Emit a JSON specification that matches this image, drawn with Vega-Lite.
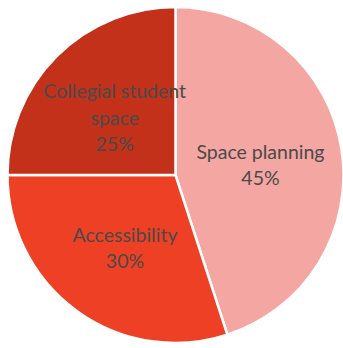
{
  "$schema": "https://vega.github.io/schema/vega-lite/v6.json",
  "width": 335,
  "height": 336,
  "padding": {"left": 2, "top": 2, "right": 0, "bottom": 0},
  "background": "white",
  "data": {
    "values": [
      {"category": "Space planning", "value": 45, "order": 1, "lines": 2, "label": "Space planning\n45%"},
      {"category": "Accessibility", "value": 30, "order": 2, "lines": 2, "label": "Accessibility\n30%"},
      {"category": "Collegial student space", "value": 25, "order": 3, "lines": 3, "label": "Collegial student\nspace\n25%"}
    ]
  },
  "encoding": {
    "theta": {"field": "value", "type": "quantitative", "stack": true},
    "order": {"field": "order", "type": "quantitative"},
    "color": {
      "field": "category",
      "type": "nominal",
      "scale": {
        "domain": ["Space planning", "Accessibility", "Collegial student space"],
        "range": ["#F4A6A2", "#EE4024", "#C3311B"]
      },
      "legend": null
    }
  },
  "layer": [
    {
      "mark": {"type": "arc", "outerRadius": 168, "stroke": "white", "strokeWidth": 2.5}
    },
    {
      "mark": {
        "type": "text",
        "radius": 86,
        "font": "Lato",
        "fontSize": 19.5,
        "lineBreak": "\n",
        "lineHeight": 26.5,
        "dy": -9,
        "align": "center",
        "baseline": "middle"
      },
      "encoding": {
        "text": {"field": "label", "type": "nominal"},
        "color": {"value": "#4a4a4a"},
        "opacity": {"condition": {"test": "datum.lines == 2", "value": 1}, "value": 0}
      }
    },
    {
      "mark": {
        "type": "text",
        "radius": 86,
        "font": "Lato",
        "fontSize": 19.5,
        "lineBreak": "\n",
        "lineHeight": 26.5,
        "dy": -22,
        "align": "center",
        "baseline": "middle"
      },
      "encoding": {
        "text": {"field": "label", "type": "nominal"},
        "color": {"value": "#4a4a4a"},
        "opacity": {"condition": {"test": "datum.lines == 3", "value": 1}, "value": 0}
      }
    }
  ],
  "view": {"stroke": null}
}
